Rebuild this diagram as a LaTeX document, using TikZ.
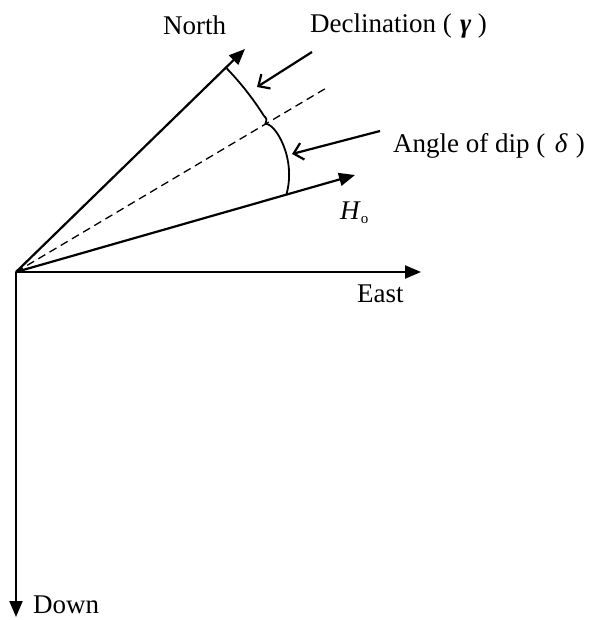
\documentclass[tikz,border=0pt]{standalone}
\usepackage{fontspec}
\setmainfont{Liberation Serif}
\usepackage{tikz}
\usetikzlibrary{arrows.meta,positioning}

\begin{document}
\begin{tikzpicture}[x=1pt,y=1pt,
  axis/.style={line width=2.2pt,-{Triangle[length=16pt,width=13pt]}},
  pointer/.style={line width=2.2pt,-{Straight Barb[length=9pt,width=17pt,line width=2.2pt]}},
  lbl/.style={font=\fontsize{27}{30}\selectfont,inner sep=0pt,anchor=base west}]
  \useasboundingbox (-16,-348) rectangle (579,272);
  \coordinate (O) at (0,0);
  \coordinate (north) at (229,223);
  \coordinate (east) at (405,0);
  \coordinate (down) at (0,-345);
  \coordinate (h0) at (339,97);
  \coordinate (dash) at (312,185);
  % axes
  \draw[axis] (O) -- (north);
  \draw[axis] (O) -- (east);
  \draw[axis] (O) -- (down);
  \draw[axis] (O) -- (h0);
  \draw[line width=1.3pt,dash pattern=on 8pt off 5pt] (O) -- (dash);
  % angle arcs with kink at the dashed line
  \draw[line width=1.8pt] (44:293) arc[start angle=44,end angle=32.2,radius=293]
    .. controls (31.4:294) .. (30.7:290)
    .. controls (30.0:299) and (22:303) .. (15.9:281);
  % labels
  \node[lbl] (northlbl) at (147,237) {North};
  \node[lbl] (decl) at (294,239) {Declination (\hspace{0.3em}\textbf{\textit{γ}}\hspace{0.25em})};
  \node[lbl] (dip) at (377,119) {Angle of dip (\hspace{0.35em}\textit{δ}\hspace{0.3em})};
  \node[lbl] (h0lbl) at (324,52) {\textit{H}\raisebox{-0.3ex}{\fontsize{15}{15}\selectfont o}};
  \node[lbl] (eastlbl) at (341,-31) {East};
  \node[lbl] (downlbl) at (17,-341) {Down};
  % pointers
  \coordinate (declfrom) at (296,220);
  \coordinate (declto) at (241,185);
  \coordinate (dipfrom) at (364,141);
  \coordinate (dipto) at (276,118);
  \draw[pointer] (declfrom) -- (declto);
  \draw[pointer] (dipfrom) -- (dipto);
\end{tikzpicture}
\end{document}
